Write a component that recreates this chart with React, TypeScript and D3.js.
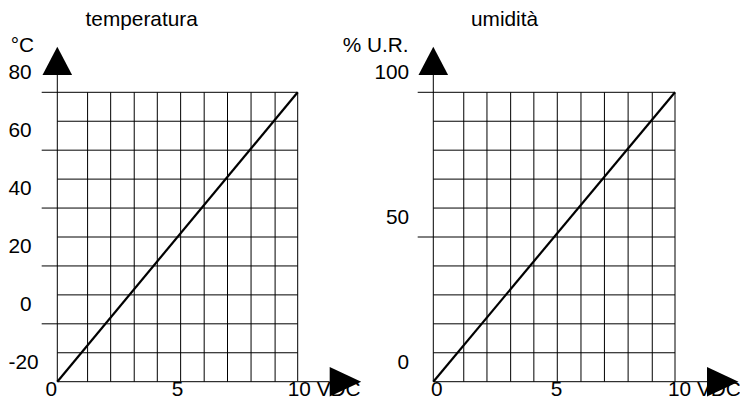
import React from "react";
import * as d3 from "d3";

// ---- data ----
const voltageDomain = [0, 10];
const voltageGrid = [0, 1.26, 2.22, 3.2, 4.16, 5.13, 6.11, 7.08, 8.06, 9.06, 10];
const voltageLabels = ["0", "5", "10 VDC"];
const voltageLabelValues = [0, 5, 10];

const tempTitle = "temperatura";
const tempUnit = "°C";
const tempDomain = [-20, 80];
const tempGrid = [-20, -10, 0, 10, 20, 30, 40, 50, 60, 70, 80];
const tempLongTicks = [0, 20, 40, 60, 80];
const tempTickValues = [80, 60, 40, 20, 0, -20];
const tempTickLabels = ["80", "60", "40", "20", "  0", "-20"];
const tempLine = [
  { v: 0, y: -20 },
  { v: 10, y: 80 },
];

const humTitle = "umidità";
const humUnit = "% U.R.";
const humDomain = [0, 100];
const humGrid = [0, 10, 20, 30, 40, 50, 60, 70, 80, 90, 100];
const humLongTicks = [50, 100];
const humTickValues = [100, 50, 0];
const humTickLabels = ["100", "50", "0"];
const humLine = [
  { v: 0, y: 0 },
  { v: 10, y: 100 },
];

const FONT = "'Liberation Sans', Arial, sans-serif";
const FS = 20.8;

type Cfg = {
  title: string;
  unit: string;
  x0: number;
  x1: number;
  yDomain: number[];
  grid: number[];
  longTicks: number[];
  tickValues: number[];
  tickLabels: string[];
  line: { v: number; y: number }[];
  titleX: number;
  unitX: number;
  yLabelX: number;
  yLabelAnchor: "start" | "end";
  zeroDx: number;
  fiveDx: number;
  tenDx: number;
};

function Chart({ c }: { c: Cfg }) {
  const top = 92.3;
  const bottom = 381.7;
  const x = d3.scaleLinear().domain(voltageDomain).range([c.x0, c.x1]);
  const y = d3.scaleLinear().domain(c.yDomain).range([bottom, top]);
  const line = d3
    .line<{ v: number; y: number }>()
    .x((d) => x(d.v))
    .y((d) => y(d.y));
  const ax = x(0);
  const xr = x(10);
  const labelDx = [c.zeroDx, c.fiveDx, c.tenDx];
  return (
    <g>
      <text x={c.titleX} y={26} fontFamily={FONT} fontSize={FS}>
        {c.title}
      </text>
      <text x={c.unitX} y={52.3} fontFamily={FONT} fontSize={FS}>
        {c.unit}
      </text>
      {/* horizontal grid */}
      {c.grid.map((g) => (
        <line
          key={"h" + g}
          x1={c.longTicks.includes(g) ? ax - 15.6 : ax}
          x2={xr}
          y1={y(g)}
          y2={y(g)}
          stroke="#000"
          strokeWidth={1}
        />
      ))}
      {/* vertical grid */}
      {voltageGrid.map((g) => (
        <line
          key={"v" + g}
          x1={x(g)}
          x2={x(g)}
          y1={g === 0 ? 75 : top}
          y2={bottom}
          stroke="#000"
          strokeWidth={1}
        />
      ))}
      {/* x axis extension */}
      <line x1={xr} x2={xr + 32} y1={bottom} y2={bottom} stroke="#000" strokeWidth={1} />
      {/* arrows */}
      <path
        d={`M${ax},46.7 L${ax + 14.8},75 L${ax - 14.8},75 Z`}
        fill="#000"
      />
      <path
        d={`M${xr + 32},${bottom - 14.8} L${xr + 63.5},${bottom} L${xr + 32},${bottom + 14.8} Z`}
        fill="#000"
      />
      {/* data line */}
      <path d={line(c.line) || ""} fill="none" stroke="#000" strokeWidth={2.2} />
      {/* y labels */}
      {c.tickValues.map((t, i) => (
        <text
          key={"yl" + t}
          x={c.yLabelX}
          y={y(t) - 13}
          fontFamily={FONT}
          fontSize={FS}
          textAnchor={c.yLabelAnchor}
          style={{ whiteSpace: "pre" }}
          xmlSpace="preserve"
        >
          {c.tickLabels[i]}
        </text>
      ))}
      {/* x labels */}
      {voltageLabelValues.map((v, i) => (
        <text
          key={"xl" + v}
          x={x(v) + labelDx[i]}
          y={396}
          fontFamily={FONT}
          fontSize={FS}
        >
          {voltageLabels[i]}
        </text>
      ))}
    </g>
  );
}

export default function App() {
  const left: Cfg = {
    title: tempTitle,
    unit: tempUnit,
    x0: 57.3,
    x1: 297.7,
    yDomain: tempDomain,
    grid: tempGrid,
    longTicks: tempLongTicks,
    tickValues: tempTickValues,
    tickLabels: tempTickLabels,
    line: tempLine,
    titleX: 85.6,
    unitX: 10.7,
    yLabelX: 8.5,
    yLabelAnchor: "start",
    zeroDx: -11.8,
    fiveDx: -5.8,
    tenDx: -9.9,
  };
  const right: Cfg = {
    title: humTitle,
    unit: humUnit,
    x0: 433.3,
    x1: 675,
    yDomain: humDomain,
    grid: humGrid,
    longTicks: humLongTicks,
    tickValues: humTickValues,
    tickLabels: humTickLabels,
    line: humLine,
    titleX: 471,
    unitX: 342.7,
    yLabelX: 409.2,
    yLabelAnchor: "end",
    zeroDx: -2.3,
    fiveDx: -3.5,
    tenDx: -7,
  };
  return (
    <svg
      width={740}
      height={399}
      style={{ position: "absolute", left: 0, top: 0, background: "#fff" }}
    >
      <rect width={740} height={399} fill="#fff" />
      <Chart c={left} />
      <Chart c={right} />
    </svg>
  );
}
